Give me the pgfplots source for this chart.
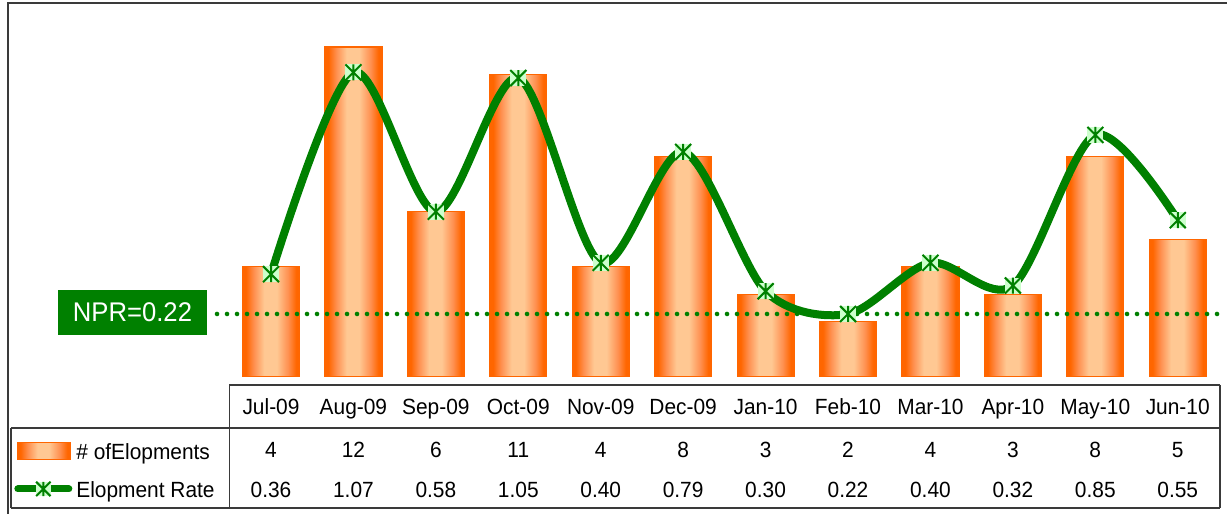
\documentclass[border=0pt]{standalone}
\usepackage{fontspec}
\setmainfont{Liberation Sans}[FakeStretch=0.95]
\usepackage{pgfplots}
\pgfplotsset{compat=1.18}
\usepackage{pgfplotstable}
\definecolor{xgreen}{HTML}{008000}
\definecolor{markfill}{HTML}{CCFFCC}
\definecolor{o1}{HTML}{FF6600}
\definecolor{o2}{HTML}{FF9050}
\definecolor{o3}{HTML}{FFC893}
\definecolor{tblc}{HTML}{3A3A3A}
\pgfdeclarehorizontalshading{barshade}{100bp}{color(0bp)=(o1); color(25bp)=(o1); color(28bp)=(o1); color(35bp)=(o2); color(44bp)=(o3); color(55bp)=(o3); color(65bp)=(o2); color(72bp)=(o1); color(75bp)=(o1); color(100bp)=(o1)}
\pgfdeclareplotmark{xlstar}{%
  \pgfsetfillcolor{markfill}%
  \pgfpathrectangle{\pgfqpoint{-\pgfplotmarksize}{-\pgfplotmarksize}}{\pgfqpoint{2\pgfplotmarksize}{2\pgfplotmarksize}}%
  \pgfusepath{fill}%
  \pgfpathmoveto{\pgfqpoint{-\pgfplotmarksize}{-\pgfplotmarksize}}%
  \pgfpathlineto{\pgfqpoint{\pgfplotmarksize}{\pgfplotmarksize}}%
  \pgfpathmoveto{\pgfqpoint{-\pgfplotmarksize}{\pgfplotmarksize}}%
  \pgfpathlineto{\pgfqpoint{\pgfplotmarksize}{-\pgfplotmarksize}}%
  \pgfpathmoveto{\pgfqpoint{0pt}{-\pgfplotmarksize}}%
  \pgfpathlineto{\pgfqpoint{0pt}{\pgfplotmarksize}}%
  \pgfusepathqstroke}

\pgfplotstableread{
x cnt rate
0 4 0.36
1 12 1.07
2 6 0.58
3 11 1.05
4 4 0.40
5 8 0.79
6 3 0.30
7 2 0.22
8 4 0.40
9 3 0.32
10 8 0.85
11 5 0.55
}\datatab

\begin{document}
\begin{tikzpicture}
\useasboundingbox (0,0) rectangle (613.5pt,257pt);
\fill[white] (0,0) rectangle (613.5pt,257pt);
\begin{scope}[x=0.5pt,y=-0.5pt,shift={(0pt,257pt)}]
\draw[tblc, line width=1pt] (7.5,514) -- (7.5,3.5) -- (1228,3.5);
\end{scope}

\begin{axis}[at={(114.9pt,68.75pt)}, anchor=south west, scale only axis,
  width=494.6pt, height=178.5pt, xmin=-0.5, xmax=11.5, ymin=0, ymax=13,
  hide axis, clip=false, unbounded coords=discard]
\pgfplotsinvokeforeach{0,...,11}{%
\addplot[ybar, bar width=28.5pt, bar shift=0pt, draw=o1, line width=0.6pt, shade, shading=barshade,
  x filter/.expression={abs(x-#1)<0.2 ? x : nan}]
  table[x=x,y=cnt]{\datatab};
}
\end{axis}

\begin{axis}[at={(114.9pt,68.75pt)}, anchor=south west, scale only axis,
  width=494.6pt, height=178.5pt, xmin=-0.5, xmax=11.5, ymin=0, ymax=1.256,
  hide axis, clip=false,
  legend cell align=left,
  legend style={at={(-0.2182,-0.2692)}, anchor=west, draw=none, fill=none,
    inner sep=0pt, row sep=8.35pt,
    nodes={text height=8.5pt, text depth=2.5pt, inner sep=0pt,
      font=\fontsize{11pt}{13pt}\selectfont},
    /tikz/every odd column/.append style={column sep=2pt}}]
\addplot[forget plot, xgreen, line width=2.3pt, dash pattern=on 0pt off 5pt, line cap=round]
  coordinates {(-0.655,0.22) (11.54,0.22)};
\addplot[forget plot, xgreen, line width=4pt, smooth, mark=xlstar, mark size=4pt,
  mark options={draw=xgreen, line width=1pt, solid}]
  table[x=x,y=rate]{\datatab};
\addlegendimage{legend image code/.code={%
  \draw[o1, line width=0.5pt, shade, shading=barshade] (0pt,-3.35pt) rectangle (26.5pt,5.15pt);}}
\addlegendentry{\# ofElopments}
\addlegendimage{legend image code/.code={%
  \draw[xgreen, line width=3.5pt, line cap=round] (0.25pt,1.5pt) -- (25.75pt,1.5pt);
  \draw[mark=xlstar, mark size=3.6pt, mark options={draw=xgreen, line width=1pt}] plot coordinates {(13pt,1.5pt)};}}
\addlegendentry{Elopment Rate}
\end{axis}

\begin{scope}[x=0.5pt,y=-0.5pt,shift={(0pt,257pt)}]
\node[fill=xgreen, text=white, minimum width=74.5pt, minimum height=22.5pt, inner sep=0pt,
  font=\fontsize{13.5pt}{15pt}\selectfont] at (132.5,312.5) {NPR=0.22};
\draw[tblc, line width=0.75pt] (229.3,385) -- (1220,385);
\draw[tblc, line width=0.75pt] (11,428) -- (1220,428);
\draw[tblc, line width=0.75pt] (11,508) -- (1220,508);
\draw[tblc, line width=0.75pt] (229.3,385) -- (229.3,508);
\draw[tblc, line width=0.75pt] (11,428) -- (11,508);
\draw[tblc, line width=0.75pt] (1220,385) -- (1220,508);
\foreach \m [count=\i from 0] in {Jul-09,Aug-09,Sep-09,Oct-09,Nov-09,Dec-09,Jan-10,Feb-10,Mar-10,Apr-10,May-10,Jun-10}
  \node[anchor=base, inner sep=0pt, font=\fontsize{11pt}{13pt}\selectfont] at ({271+82.43*\i},415) {\m};
\foreach \v [count=\i from 0] in {4,12,6,11,4,8,3,2,4,3,8,5}
  \node[anchor=base, inner sep=0pt, font=\fontsize{11pt}{13pt}\selectfont] at ({271+82.43*\i},458) {\v};
\foreach \v [count=\i from 0] in {0.36,1.07,0.58,1.05,0.40,0.79,0.30,0.22,0.40,0.32,0.85,0.55}
  \node[anchor=base, inner sep=0pt, font=\fontsize{11pt}{13pt}\selectfont] at ({271+82.43*\i},498) {\v};
\end{scope}
\end{tikzpicture}
\end{document}
